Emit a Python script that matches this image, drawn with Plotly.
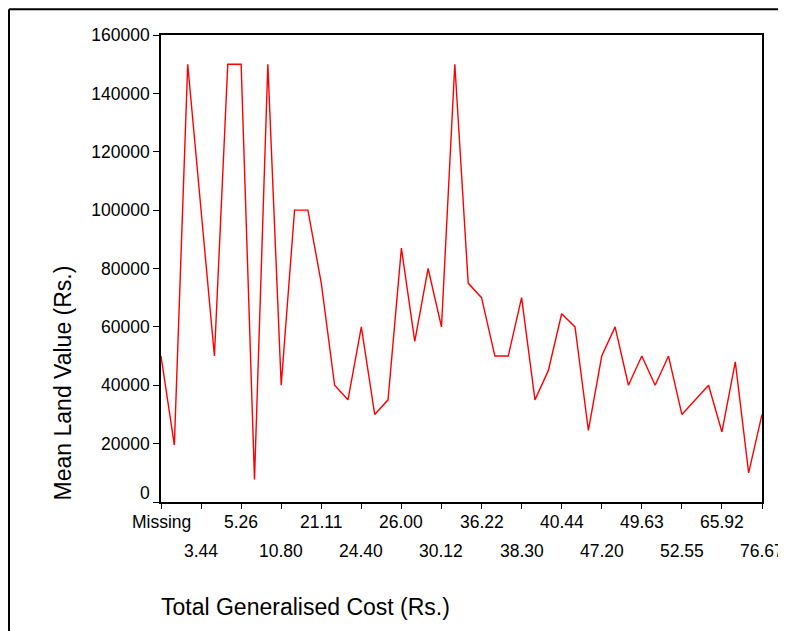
import plotly.graph_objects as go

# Tick labels shown on the category axis (every third category)
tick_labels = ["Missing", "3.44", "5.26", "10.80", "21.11", "24.40", "26.00", "30.12",
               "36.22", "38.30", "40.44", "47.20", "49.63", "52.55", "65.92", "76.67"]

# Mean land value per category (46 categories)
mean_land_value = [
    50000, 19500, 150000, 100000, 50000, 150000, 150000, 7700, 150000, 40000,
    100000, 100000, 75000, 40000, 35000, 60000, 30000, 35000, 87000, 55000,
    80000, 60000, 150000, 75000, 70000, 50000, 50000, 70000, 35000, 45000,
    64500, 60000, 24500, 50000, 60000, 40000, 50000, 40000, 50000, 30000,
    35000, 40000, 24000, 48000, 10000, 30000,
]

y_ticks = [0, 20000, 40000, 60000, 80000, 100000, 120000, 140000, 160000]

step = 3
positions = list(range(len(mean_land_value)))
tick_pos = positions[::step]

FONT = "Arial, Liberation Sans, sans-serif"

fig = go.Figure()
fig.add_trace(go.Scatter(
    x=positions, y=mean_land_value, mode="lines",
    line=dict(color="#FF0000", width=1.4), showlegend=False, hoverinfo="skip",
))

annotations = [
    dict(text="0", xref="paper", yref="y", x=0, y=0, xanchor="right",
         yanchor="middle", xshift=-9, yshift=9, showarrow=False,
         font=dict(size=17.5)),
    dict(text="Mean Land Value (Rs.)", xref="paper", yref="paper",
         x=-0.163, y=0.254, textangle=-90, showarrow=False,
         xanchor="center", yanchor="middle", font=dict(size=23)),
    dict(text="Total Generalised Cost (Rs.)", xref="paper", yref="paper",
         x=0.2404, y=-0.225, showarrow=False,
         xanchor="center", yanchor="middle", font=dict(size=23)),
]
# staggered two-row category labels
for i, t in enumerate(tick_labels):
    annotations.append(dict(
        text=t, xref="x", yref="paper", x=tick_pos[i], y=0,
        xanchor="center", yanchor="middle",
        yshift=-20 if i % 2 == 0 else -49,
        showarrow=False, font=dict(size=17.5)))

fig.update_layout(
    width=778, height=623,
    margin=dict(l=153, r=24, t=27, b=129),
    paper_bgcolor="white", plot_bgcolor="white",
    font=dict(family=FONT, size=17, color="black"),
    xaxis=dict(
        range=[0, len(mean_land_value) - 1], tickmode="array",
        tickvals=tick_pos, ticktext=[""] * len(tick_pos),
        ticks="outside", ticklen=5, tickwidth=1.3, tickcolor="black",
        showline=True, linecolor="black", linewidth=1.6, mirror=True,
        showgrid=False, zeroline=False, tickfont=dict(size=17.5),
    ),
    yaxis=dict(
        range=[0, 160000], tickmode="array", tickvals=y_ticks,
        ticktext=[""] + [str(v) for v in y_ticks[1:]],
        ticks="outside", ticklen=6, tickwidth=1.3, tickcolor="black",
        showline=True, linecolor="black", linewidth=1.6, mirror=True,
        showgrid=False, zeroline=False, tickfont=dict(size=17.5),
    ),
    annotations=annotations,
    shapes=[
        dict(type="line", xref="paper", yref="paper", x0=-0.2529, x1=1.05,
             y0=1.055, y1=1.055, line=dict(color="black", width=2)),
        dict(type="line", xref="paper", yref="paper", x0=-0.2529, x1=-0.2529,
             y0=1.055, y1=-0.3, line=dict(color="black", width=2)),
    ],
)

fig.write_html("out.html")
